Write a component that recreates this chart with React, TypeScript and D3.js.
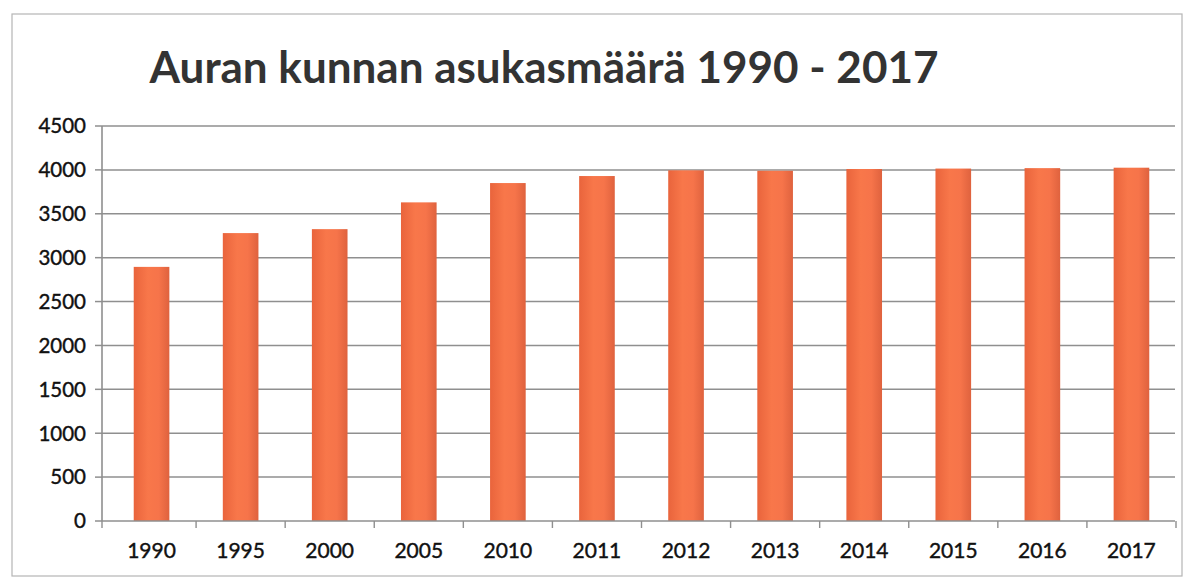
import { scaleBand, scaleLinear } from 'd3';

const years = ['1990', '1995', '2000', '2005', '2010', '2011', '2012', '2013', '2014', '2015', '2016', '2017'];
const residents = [2895, 3280, 3325, 3630, 3850, 3930, 3995, 3990, 4010, 4015, 4020, 4025];
const yTicks = [0, 500, 1000, 1500, 2000, 2500, 3000, 3500, 4000, 4500];

const W = 1189;
const H = 580;
const margin = { top: 126, right: 14, bottom: 59, left: 102 };
const font = 'Lato, "Open Sans", "Noto Sans", sans-serif';

export default function App() {
  const x0 = margin.left;
  const x1 = W - margin.right;
  // scanned original is slightly skewed: categories sit a few px right of the axis
  const x = scaleBand<string>()
    .domain(years)
    .range([x0 + 5, x1 + 1])
    .paddingInner(0.6)
    .paddingOuter(0.3);
  const y = scaleLinear().domain([0, 4500]).range([H - margin.bottom, margin.top]);
  const step = x.step();
  const mid = (yr: string) => (x(yr) ?? 0) + x.bandwidth() / 2;

  return (
    <svg width={W} height={H} style={{ position: 'absolute', left: 0, top: 0, background: '#fff' }}>
      <defs>
        <linearGradient id="barFill" x1="0" x2="1" y1="0" y2="0">
          <stop offset="0%" stopColor="#e9643c" />
          <stop offset="40%" stopColor="#f8774a" />
          <stop offset="70%" stopColor="#f6744a" />
          <stop offset="100%" stopColor="#df623e" />
        </linearGradient>
      </defs>
      <rect x={12} y={14} width={1170} height={562} fill="none" stroke="#b5b5b5" strokeWidth={1.2} />
      <text x={544} y={83} textAnchor="middle" fontFamily={font} fontWeight={700} fontSize={44} fill="#333">
        Auran kunnan asukasmäärä 1990 - 2017
      </text>
      {yTicks.map(t => (
        <g key={t}>
          {t > 0 && <line x1={x0} x2={x1} y1={y(t)} y2={y(t)} stroke="#8f8f8f" strokeWidth={1.5} />}
          <line x1={x0 - 7} x2={x0} y1={y(t)} y2={y(t)} stroke="#8f8f8f" strokeWidth={1.5} />
          <text x={x0 - 16} y={y(t)} dy="0.36em" textAnchor="end" fontFamily={font} fontSize={20.5} fill="#111" stroke="#111" strokeWidth={0.4}>
            {t}
          </text>
        </g>
      ))}
      {years.map((yr, i) => (
        <rect
          key={yr}
          x={x(yr)}
          y={y(residents[i])}
          width={x.bandwidth()}
          height={y(0) - y(residents[i])}
          fill="url(#barFill)"
        />
      ))}
      <line x1={x0} x2={x0} y1={y(4500)} y2={y(0)} stroke="#8f8f8f" strokeWidth={1.6} />
      <line x1={x0} x2={x1} y1={y(0)} y2={y(0)} stroke="#8f8f8f" strokeWidth={1.6} />
      <line x1={x0} x2={x0} y1={y(0)} y2={y(0) + 7} stroke="#8f8f8f" strokeWidth={1.4} />
      {years.map(yr => (
        <line key={yr} x1={mid(yr) + step / 2} x2={mid(yr) + step / 2} y1={y(0)} y2={y(0) + 7} stroke="#8f8f8f" strokeWidth={1.4} />
      ))}
      {years.map(yr => (
        <text key={yr} x={mid(yr)} y={558} textAnchor="middle" fontFamily={font} fontSize={21} fill="#111" stroke="#111" strokeWidth={0.4}>
          {yr}
        </text>
      ))}
    </svg>
  );
}
